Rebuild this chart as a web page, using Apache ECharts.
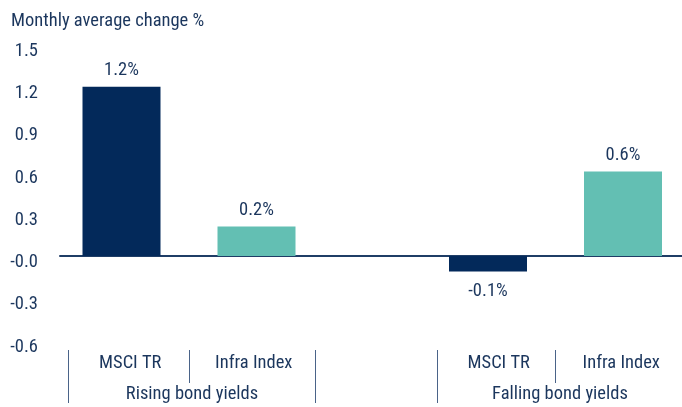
<!DOCTYPE html>
<html>
<head>
<meta charset="utf-8">
<script src="https://cdn.jsdelivr.net/npm/echarts@6/dist/echarts.min.js"></script>
<style>
  html, body { margin: 0; padding: 0; background: #fff; }
  #chart { width: 682px; height: 407px; }
</style>
</head>
<body>
<div id="chart"></div>
<script>
  // data
  var categories = ['MSCI TR', 'Infra Index'];
  var groups = ['Rising bond yields', 'Falling bond yields'];
  var risingValues = [1.2, 0.21];
  var fallingValues = [-0.11, 0.6];
  var yTickLabels = ['-0.6', '-0.3', '-0.0', '0.3', '0.6', '0.9', '1.2', '1.5'];
  var yMin = -0.6, yMax = 1.5, yStep = 0.3;

  var FONT = '"Roboto Condensed", Roboto, sans-serif';
  var FS = 18.5;
  var FW = 450;
  var TEXT = '#1b365d';
  var LINE = '#1f3d66';
  var TICK = '#4a6388';
  var barColors = ['#03295a', '#63bfb3'];

  var plotTop = 44.5, plotBottom = 66.4;

  function barData(values) {
    return values.map(function (v, i) {
      return {
        value: v,
        itemStyle: { color: barColors[i] },
        label: { position: v < 0 ? 'bottom' : 'top', distance: v < 0 ? 10 : 7 }
      };
    });
  }

  function hiddenY(gridIndex) {
    return { type: 'value', gridIndex: gridIndex, min: yMin, max: yMax, interval: yStep, show: false };
  }

  // short separator between the two categories of a group
  function innerTickAxis(gridIndex) {
    return {
      type: 'category', gridIndex: gridIndex, data: ['l', 'm', 'r'], boundaryGap: false,
      position: 'bottom', offset: 9.4,
      axisLine: { show: false, onZero: false },
      axisLabel: { show: false },
      axisTick: { show: true, interval: function (i) { return i === 1; }, length: 33, lineStyle: { color: TICK, width: 1 } }
    };
  }

  function groupAxis(gridIndex, name) {
    return {
      type: 'category', gridIndex: gridIndex, data: [name], position: 'bottom',
      axisLine: { show: false, onZero: false },
      axisTick: { show: true, length: 53, lineStyle: { color: TICK, width: 1 } },
      axisLabel: { interval: 0, margin: 35, fontSize: FS, fontWeight: FW, color: TEXT, fontFamily: FONT }
    };
  }

  function subAxis(gridIndex) {
    return {
      type: 'category', gridIndex: gridIndex, data: categories, position: 'bottom',
      axisLine: { show: false, onZero: false },
      axisTick: { show: false },
      axisLabel: { interval: 0, margin: 4, fontSize: FS, fontWeight: FW, color: TEXT, fontFamily: FONT }
    };
  }

  var barLabel = {
    show: true, fontSize: FS, fontWeight: FW, color: TEXT, fontFamily: FONT,
    formatter: function (p) { return p.value.toFixed(1) + '%'; }
  };

  function grid(left, width, top, bottom) {
    var g = { left: left, top: top, bottom: bottom, outerBoundsMode: 'none', containLabel: false };
    if (width == null) g.right = 0; else g.width = width;
    return g;
  }

  var option = {
    animation: false,
    backgroundColor: '#ffffff',
    title: {
      text: 'Monthly average change %',
      left: 11, top: 12, padding: 0,
      textStyle: { fontSize: FS, fontWeight: FW, color: TEXT, fontFamily: FONT }
    },
    grid: [
      grid(60, null, plotTop, plotBottom),
      grid(54, 270, plotTop, plotBottom),
      grid(420.5, 270, plotTop, plotBottom),
      grid(68.5, 247, 300, 57),
      grid(437.5, 245, 300, 57)
    ],
    xAxis: [
      {
        type: 'category', gridIndex: 0, data: [''],
        axisLine: { show: true, onZero: true, lineStyle: { color: LINE, width: 2 } },
        axisTick: { show: false }, axisLabel: { show: false }
      },
      { type: 'category', gridIndex: 1, data: categories, show: false, axisLine: { onZero: false } },
      innerTickAxis(1),
      { type: 'category', gridIndex: 2, data: categories, show: false, axisLine: { onZero: false } },
      innerTickAxis(2),
      groupAxis(3, groups[0]),
      subAxis(3),
      groupAxis(4, groups[1]),
      subAxis(4)
    ],
    yAxis: [
      {
        type: 'value', gridIndex: 0, min: yMin, max: yMax, interval: yStep,
        axisLine: { show: false }, axisTick: { show: false }, splitLine: { show: false },
        axisLabel: {
          margin: 22,
          formatter: function (v) { return '{t|' + yTickLabels[Math.round((v - yMin) / yStep)] + '}'; },
          rich: {
            t: { fontSize: FS, fontWeight: FW, color: TEXT, fontFamily: FONT, padding: [13, 0, 0, 0] }
          }
        }
      },
      hiddenY(1), hiddenY(2),
      { type: 'value', gridIndex: 3, show: false },
      { type: 'value', gridIndex: 4, show: false }
    ],
    series: [
      {
        name: groups[0], type: 'bar', xAxisIndex: 1, yAxisIndex: 1,
        barWidth: 78, data: barData(risingValues), label: barLabel
      },
      {
        name: groups[1], type: 'bar', xAxisIndex: 3, yAxisIndex: 2,
        barWidth: 78, data: barData(fallingValues), label: barLabel
      }
    ]
  };

  var myChart = echarts.init(document.getElementById('chart'));
  myChart.setOption(option);
</script>
</body>
</html>
